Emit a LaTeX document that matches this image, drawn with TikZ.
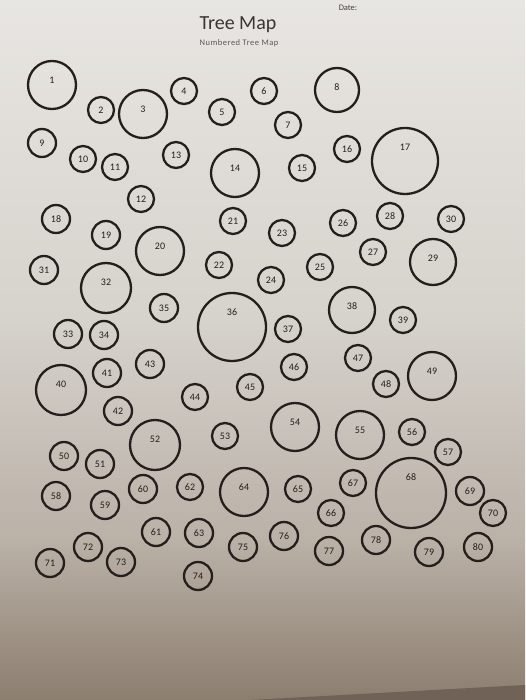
\documentclass[tikz,border=0pt]{standalone}
\usepackage{fontspec}
\setmainfont{Carlito}
\usepackage{tikz}
\usetikzlibrary{calc}
\usepackage{xcolor}
\definecolor{PaperTop}{RGB}{232,230,226}
\definecolor{PaperMid}{RGB}{214,210,204}
\definecolor{PaperLow}{RGB}{186,177,167}
\definecolor{PaperEnd}{RGB}{140,126,111}
\definecolor{TableDark}{RGB}{112,98,86}
\definecolor{InkDark}{RGB}{36,31,28}
\tikzset{
	ring/.style={circle, draw=InkDark, line width=2.3pt, inner sep=0pt},
	numlabel/.style={text=InkDark, font=\fontsize{10}{12}\selectfont, inner sep=0pt},
	titletext/.style={text=InkDark!90, font=\fontsize{20}{24}\selectfont},
	subtext/.style={text=InkDark!75, font=\fontsize{8.5}{10}\selectfont\addfontfeature{LetterSpace=6}},
	datetext/.style={text=InkDark!85, font=\fontsize{8.5}{10}\selectfont},
}

\begin{document}
\begin{tikzpicture}[x=1pt, y=-1pt]
	% photographed sheet
	\useasboundingbox (0,0) rectangle (525,700);
	\shade[top color=PaperTop, bottom color=PaperMid] (0,0) rectangle (525,320);
	\shade[top color=PaperMid, bottom color=PaperLow] (0,320) rectangle (525,540);
	\shade[top color=PaperLow, bottom color=PaperEnd] (0,540) rectangle (525,700);
	\fill[TableDark] (250,700) -- (525,685) -- (525,700) -- cycle;
	
	% heading
	\node[titletext] (title) at (238,25) {Tree Map};
	\node[subtext] (subtitle) at (239,43) {Numbered Tree Map};
	\node[datetext] (date) at (348,8) {Date:};
	
	% numbered circles: number/x/y/radius
	\foreach \n/\x/\y/\r in {
		1/52/85/25, 2/101/110/14, 3/143/114/25, 4/184/91/14, 5/222/112/14,
		6/264/91/14, 7/288/125/14, 8/337/90/23, 9/42/143/15, 10/83/159/14,
		11/115/167/14, 12/141/199/14, 13/176/155/14, 14/235/173/25, 15/302/168/14,
		16/347/149/14, 17/405/161/34, 18/56/219/15, 19/106/235/15, 20/160/251/25,
		21/233/221/14, 22/219/265/14, 23/282/233/14, 24/271/280/14, 25/320/267/14,
		26/343/223/14, 27/373/252/14, 28/390/216/14, 29/433/262/24, 30/451/219/14,
		31/44/270/15, 32/106/288/26, 33/68/334/15, 34/104/335/15, 35/164/308/15,
		36/232/327/35, 37/288/329/14, 38/352/310/24, 39/403/320/14, 40/61/390/26,
		41/107/373/15, 42/118/411/15, 43/150/364/15, 44/195/397/14, 45/250/387/14,
		46/294/367/14, 47/358/358/14, 48/386/384/14, 49/432/376/25, 50/64/456/15,
		51/100/464/15, 52/155/445/26, 53/225/436/14, 54/295/427/25, 55/360/435/25,
		56/412/432/14, 57/448/452/14, 58/56/496/15, 59/105/505/15, 60/143/489/15,
		61/156/532/15, 62/190/487/14, 63/199/533/15, 64/244/492/25, 65/298/489/14,
		66/331/513/14, 67/353/483/14, 68/411/493/36, 69/470/491/15, 70/493/513/14,
		71/50/563/15, 72/88/547/15, 73/121/562/15, 74/198/576/15, 75/243/547/15,
		76/284/536/15, 77/329/551/15, 78/376/540/15, 79/429/552/15, 80/478/547/15}{
		\pgfmathsetmacro{\up}{max(\r-20,0)}
		\node[ring, minimum size={2*\r-2}] (t\n) at (\x,\y) {};
		\node[numlabel] (n\n) at ([yshift=\up pt]t\n.center) {\n};
	}
\end{tikzpicture}
\end{document}
